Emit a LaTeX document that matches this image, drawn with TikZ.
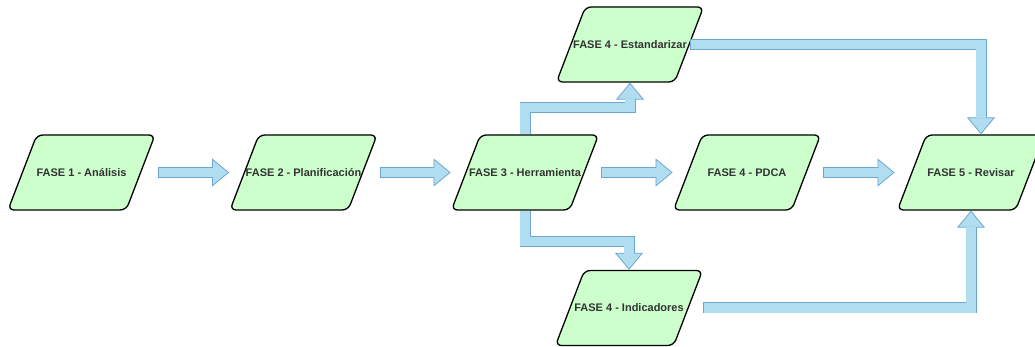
\documentclass[tikz,border=0pt]{standalone}
\usepackage{fontspec}
\setmainfont{Liberation Sans}
\usetikzlibrary{shapes.geometric, arrows.meta, calc, positioning}
\definecolor{fasefill}{HTML}{CCFFCC}
\definecolor{flechafill}{HTML}{B1DDF0}
\definecolor{flechaline}{HTML}{6DA7CF}
\definecolor{textogris}{HTML}{333333}

\begin{document}
\begin{tikzpicture}[
		x=1pt, y=1pt,
		etiqueta/.style={
				text=textogris,
				font=\bfseries\fontsize{11}{13}\selectfont
			},
		fase/.style={
				trapezium,
				trapezium left angle=69,
				trapezium right angle=111,
				text height=0pt, text depth=0pt,
				inner xsep=44.7pt, % ancho total ~147
				inner ysep=37.5pt, % alto total 75
				draw=black, line width=1.3pt,
				fill=fasefill,
				rounded corners=6pt,
				label={[etiqueta]center:#1}
			},
		flecha/.style={
				draw=flechaline, line width=11pt, line join=miter,
				-{Triangle[width=28pt, length=17pt, line width=0.8pt, fill=flechafill]},
				postaction={draw=flechafill, line width=9.4pt, -, shorten <=0.8pt, shorten >=16pt}
			}
	]
	\useasboundingbox (0,0) rectangle (1035,347);

	% fases
	\node[fase={FASE 1 - Análisis}] (f1) at (81.5,174.5) {};
	\node[fase={FASE 2 - Planificación}] (f2) at (303.5,174.5) {};
	\node[fase={FASE 3 - Herramienta}] (f3) at (525,174.5) {};
	\node[fase={FASE 4 - PDCA}] (pdca) at (747,174.5) {};
	\node[fase={FASE 5 - Revisar}] (f5) at (971,174.5) {};
	\node[fase={FASE 4 - Estandarizar}] (est) at (630,302.5) {};
	\node[fase={FASE 4 - Indicadores}] (ind) at (629,39) {};

	% flechas
	\draw[flecha] ($(f1.top right corner |- f1)+(2,0)$) -- (f2.bottom left corner |- f2);
	\draw[flecha] ($(f2.top right corner |- f2)+(2,0)$) -- (f3.bottom left corner |- f3);
	\draw[flecha] ($(f3.top right corner |- f3)+(2,0)$) -- (pdca.bottom left corner |- pdca);
	\draw[flecha] ($(pdca.top right corner |- pdca)+(2,0)$) -- ($(f5.bottom left corner |- f5)+(-2,0)$);

	\draw[flecha] (f3 |- f3.top left corner) -- ++(0,27) -| (est |- est.bottom left corner);
	\draw[flecha] (f3 |- f3.bottom left corner) -- ++(0,-31) -| (ind |- ind.top left corner);

	\draw[flecha] (est.east) -| ($(f5 |- f5.top left corner)+(10,0)$);
	\draw[flecha] (ind.top right corner |- ind) -| (f5 |- f5.bottom left corner);
\end{tikzpicture}
\end{document}
